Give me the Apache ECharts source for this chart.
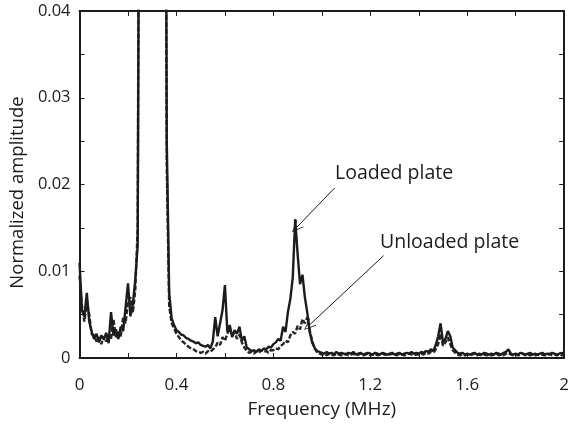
<!DOCTYPE html>
<html><head><meta charset="utf-8">
<script src="https://cdn.jsdelivr.net/npm/echarts@6/dist/echarts.min.js"></script>
<style>html,body{margin:0;padding:0;background:#fff}#c{width:572px;height:428px}</style>
</head><body><div id="c"></div>
<script>
const freq = [
0.00,0.01,0.02,0.03,0.04,0.05,0.06,0.07,0.08,0.09,
0.10,0.11,0.12,0.13,0.14,0.15,0.16,0.17,0.18,0.19,
0.20,0.21,0.22,0.23,0.24,0.25,0.26,0.27,0.28,0.29,
0.30,0.31,0.32,0.33,0.34,0.35,0.36,0.37,0.38,0.39,
0.40,0.41,0.42,0.43,0.44,0.45,0.46,0.47,0.48,0.49,
0.50,0.51,0.52,0.53,0.54,0.55,0.56,0.57,0.58,0.59,
0.60,0.61,0.62,0.63,0.64,0.65,0.66,0.67,0.68,0.69,
0.70,0.71,0.72,0.73,0.74,0.75,0.76,0.77,0.78,0.79,
0.80,0.81,0.82,0.83,0.84,0.85,0.86,0.87,0.88,0.89,
0.90,0.91,0.92,0.93,0.94,0.95,0.96,0.97,0.98,0.99,
1.00,1.01,1.02,1.03,1.04,1.05,1.06,1.07,1.08,1.09,
1.10,1.11,1.12,1.13,1.14,1.15,1.16,1.17,1.18,1.19,
1.20,1.21,1.22,1.23,1.24,1.25,1.26,1.27,1.28,1.29,
1.30,1.31,1.32,1.33,1.34,1.35,1.36,1.37,1.38,1.39,
1.40,1.41,1.42,1.43,1.44,1.45,1.46,1.47,1.48,1.49,
1.50,1.51,1.52,1.53,1.54,1.55,1.56,1.57,1.58,1.59,
1.60,1.61,1.62,1.63,1.64,1.65,1.66,1.67,1.68,1.69,
1.70,1.71,1.72,1.73,1.74,1.75,1.76,1.77,1.78,1.79,
1.80,1.81,1.82,1.83,1.84,1.85,1.86,1.87,1.88,1.89,
1.90,1.91,1.92,1.93,1.94,1.95,1.96,1.97,1.98,1.99,
2.00];

const loaded = [
0.0110,0.0055,0.0048,0.0075,0.0042,0.0030,0.0022,0.0028,0.0018,0.0026,
0.0021,0.0029,0.0017,0.0053,0.0026,0.0033,0.0022,0.0036,0.0031,0.0058,
0.0086,0.0048,0.0062,0.0090,0.0130,0.0900,0.2000,0.4000,0.6000,0.8000,
0.9000,0.7000,0.5000,0.3000,0.2000,0.1200,0.0250,0.0075,0.0046,0.0038,
0.0032,0.0030,0.0027,0.0026,0.0023,0.0022,0.0020,0.0019,0.0017,0.0018,
0.0015,0.0014,0.0013,0.0015,0.0011,0.0019,0.0047,0.0025,0.0040,0.0055,
0.0084,0.0030,0.0038,0.0024,0.0032,0.0028,0.0036,0.0020,0.0025,0.0012,
0.0010,0.0008,0.0009,0.0007,0.0010,0.0008,0.0011,0.0010,0.0013,0.0012,
0.0016,0.0018,0.0022,0.0020,0.0036,0.0030,0.0053,0.0068,0.0093,0.0160,
0.0120,0.0085,0.0096,0.0070,0.0052,0.0030,0.0018,0.0012,0.0008,0.0007,
0.0006,0.0005,0.0007,0.0005,0.0006,0.0004,0.0007,0.0005,0.0006,0.0005,
0.0004,0.0006,0.0005,0.0007,0.0004,0.0005,0.0006,0.0004,0.0005,0.0006,
0.0005,0.0004,0.0006,0.0005,0.0004,0.0006,0.0005,0.0004,0.0005,0.0006,
0.0004,0.0005,0.0006,0.0004,0.0005,0.0006,0.0005,0.0007,0.0005,0.0006,
0.0005,0.0007,0.0006,0.0008,0.0007,0.0010,0.0008,0.0015,0.0025,0.0040,
0.0018,0.0022,0.0031,0.0025,0.0012,0.0009,0.0006,0.0005,0.0006,0.0004,
0.0005,0.0004,0.0005,0.0006,0.0004,0.0005,0.0004,0.0006,0.0005,0.0004,
0.0005,0.0004,0.0006,0.0005,0.0004,0.0006,0.0007,0.0010,0.0005,0.0004,
0.0005,0.0004,0.0006,0.0005,0.0004,0.0005,0.0006,0.0004,0.0005,0.0004,
0.0005,0.0006,0.0004,0.0005,0.0004,0.0006,0.0005,0.0004,0.0005,0.0006,
0.0004];

const unloaded = [
0.0095,0.0060,0.0042,0.0065,0.0050,0.0028,0.0026,0.0019,0.0024,0.0016,
0.0025,0.0019,0.0027,0.0022,0.0045,0.0024,0.0030,0.0025,0.0047,0.0040,
0.0065,0.0070,0.0052,0.0078,0.0150,0.1000,0.2500,0.4500,0.6500,0.8500,
0.9500,0.7500,0.5500,0.3500,0.2200,0.1000,0.0220,0.0060,0.0040,0.0034,
0.0028,0.0024,0.0020,0.0018,0.0015,0.0013,0.0011,0.0010,0.0008,0.0007,
0.0006,0.0007,0.0005,0.0008,0.0007,0.0010,0.0012,0.0018,0.0015,0.0024,
0.0020,0.0028,0.0034,0.0026,0.0030,0.0022,0.0027,0.0018,0.0012,0.0008,
0.0006,0.0007,0.0005,0.0008,0.0006,0.0009,0.0007,0.0008,0.0006,0.0009,
0.0009,0.0011,0.0010,0.0014,0.0016,0.0020,0.0018,0.0026,0.0030,0.0028,
0.0037,0.0033,0.0045,0.0040,0.0047,0.0032,0.0020,0.0011,0.0007,0.0005,
0.0004,0.0005,0.0003,0.0005,0.0004,0.0003,0.0005,0.0004,0.0003,0.0004,
0.0005,0.0003,0.0004,0.0005,0.0003,0.0004,0.0005,0.0003,0.0004,0.0005,
0.0003,0.0004,0.0005,0.0003,0.0004,0.0005,0.0004,0.0003,0.0004,0.0005,
0.0004,0.0003,0.0005,0.0004,0.0003,0.0004,0.0005,0.0004,0.0003,0.0004,
0.0004,0.0005,0.0004,0.0006,0.0005,0.0007,0.0006,0.0010,0.0016,0.0028,
0.0014,0.0018,0.0024,0.0016,0.0009,0.0006,0.0004,0.0003,0.0004,0.0003,
0.0004,0.0003,0.0004,0.0005,0.0003,0.0004,0.0003,0.0004,0.0003,0.0004,
0.0003,0.0004,0.0005,0.0003,0.0004,0.0003,0.0005,0.0006,0.0004,0.0003,
0.0004,0.0003,0.0004,0.0005,0.0003,0.0004,0.0003,0.0004,0.0003,0.0004,
0.0003,0.0004,0.0003,0.0004,0.0005,0.0003,0.0004,0.0003,0.0004,0.0003,
0.0003];

const xTicks = [0, 0.4, 0.8, 1.2, 1.6, 2];
const yTicks = [0, 0.01, 0.02, 0.03, 0.04];
const seriesNames = ['Loaded plate', 'Unloaded plate'];

const FONT = 'Open Sans';
const INK = '#1c1c1c';
const chevron = 'path://M0,0 L6,10 L5,10 L0,1.6 L-5,10 L-6,10 Z';

function pairs(xs, ys) { return xs.map((x, i) => [x, ys[i]]); }

const axisCommon = {
  axisLine: { show: true, onZero: false, lineStyle: { color: INK, width: 2 } },
  axisTick: { show: true, inside: true, length: 5, lineStyle: { color: INK, width: 1 } },
  minorTick: { show: true, splitNumber: 2, length: 5, lineStyle: { color: INK, width: 1 } },
  splitLine: { show: false }
};

const chart = echarts.init(document.getElementById('c'), null, { renderer: 'canvas' });
chart.setOption({
  animation: false,
  backgroundColor: '#fff',
  grid: { left: 79, right: 4, top: 11, bottom: 70 },
  xAxis: [
    Object.assign({}, axisCommon, {
      type: 'value', position: 'bottom', min: xTicks[0], max: xTicks[xTicks.length - 1], interval: 0.4,
      name: 'Frequency (MHz)', nameLocation: 'middle', nameGap: 42,
      nameTextStyle: { fontFamily: FONT, fontSize: 19, color: INK },
      axisLabel: { fontFamily: FONT, fontSize: 17, color: INK, margin: 19,
        formatter: v => xTicks.some(t => Math.abs(t - v) < 1e-9) ? String(+v.toFixed(1)) : '' }
    }),
    Object.assign({}, axisCommon, {
      type: 'value', position: 'top', min: xTicks[0], max: xTicks[xTicks.length - 1], interval: 0.4,
      axisLabel: { show: false }
    })
  ],
  yAxis: [
    Object.assign({}, axisCommon, {
      type: 'value', position: 'left', min: yTicks[0], max: yTicks[yTicks.length - 1], interval: 0.01,
      name: 'Normalized amplitude', nameLocation: 'middle', nameGap: 38,
      nameTextStyle: { fontFamily: FONT, fontSize: 18.5, color: INK, padding: [0, 16, 0, 0] },
      axisLabel: { fontFamily: FONT, fontSize: 16.5, color: INK, margin: 9,
        formatter: v => String(+v.toFixed(2)) }
    }),
    Object.assign({}, axisCommon, {
      type: 'value', position: 'right', min: yTicks[0], max: yTicks[yTicks.length - 1], interval: 0.01,
      axisLabel: { show: false }
    })
  ],
  series: [
    {
      name: seriesNames[1], type: 'line', data: pairs(freq, unloaded), showSymbol: false, clip: true,
      lineStyle: { color: '#262626', width: 2.4, type: [5, 2] },
      markLine: {
        silent: true, symbol: ['none', chevron], symbolSize: [10, 12],
        lineStyle: { color: INK, width: 1, type: 'solid' }, label: { show: false },
        data: [[{ coord: [1.255, 0.0118] }, { coord: [0.945, 0.0037] }]]
      }
    },
    {
      name: seriesNames[0], type: 'line', data: pairs(freq, loaded), showSymbol: false, clip: true,
      lineStyle: { color: INK, width: 2.4 },
      markLine: {
        silent: true, symbol: ['none', chevron], symbolSize: [10, 12],
        lineStyle: { color: INK, width: 1, type: 'solid' }, label: { show: false },
        data: [[{ coord: [1.053, 0.0196] }, { coord: [0.894, 0.0150] }]]
      }
    }
  ],
  graphic: [
    { type: 'text', left: 335, top: 163, style: { text: seriesNames[0], fontFamily: FONT, fontSize: 19.5, fill: INK } },
    { type: 'text', left: 380, top: 232, style: { text: seriesNames[1], fontFamily: FONT, fontSize: 19.5, fill: INK } }
  ]
});
</script></body></html>
